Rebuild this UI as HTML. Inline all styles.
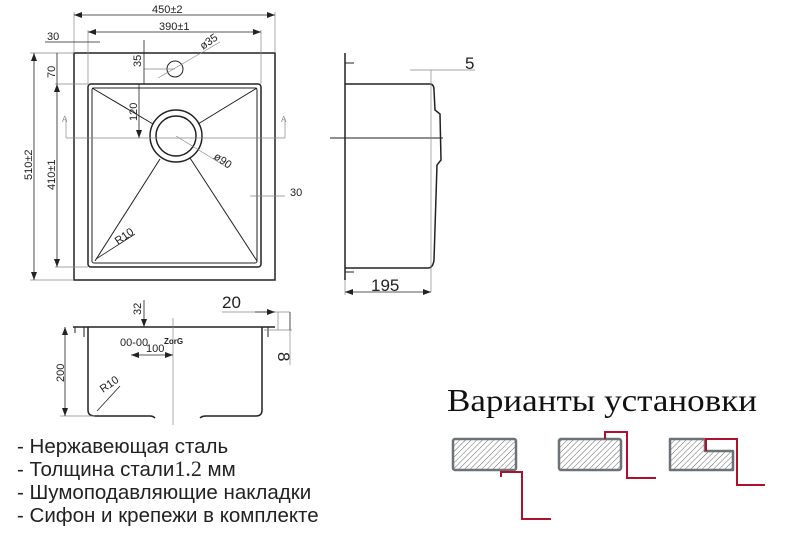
<!DOCTYPE html>
<html><head><meta charset="utf-8"><style>
html,body{margin:0;padding:0;background:#fff;}
svg{display:block;}
.t{font-family:"Liberation Sans",sans-serif;fill:#222;}
</style></head><body>
<svg width="800" height="533" viewBox="0 0 800 533" xmlns="http://www.w3.org/2000/svg">
<defs>
<pattern id="h" width="4" height="4" patternUnits="userSpaceOnUse" patternTransform="rotate(45)">
<line x1="0" y1="0" x2="0" y2="4" stroke="#666" stroke-width="1"/></pattern>
<marker id="a" markerWidth="8" markerHeight="6" refX="8" refY="3" orient="auto-start-reverse" markerUnits="userSpaceOnUse"><path d="M0,0 L8,3 L0,6 z" fill="#222"/></marker>
</defs>
<g stroke="#222" fill="none" stroke-width="1">
<rect x="74" y="53" width="201" height="227" stroke-width="1.5"/>
<rect x="88" y="84" width="173" height="183" rx="3" stroke-width="1.5"/>
<rect x="92" y="88" width="165" height="175" rx="2"/>
<circle cx="176" cy="136" r="26" stroke-width="1.5"/>
<circle cx="176" cy="136" r="20" stroke-width="1.5"/>
<circle cx="175" cy="69" r="8"/>
<line x1="92" y1="88" x2="153" y2="124"/><line x1="257" y1="88" x2="198" y2="124"/>
<line x1="95" y1="261" x2="160" y2="159"/><line x1="257" y1="261" x2="190" y2="158"/>
<g stroke="#888" stroke-width="0.7">
<line x1="74" y1="12" x2="74" y2="53"/><line x1="275" y1="12" x2="275" y2="53"/>
<line x1="88" y1="30" x2="88" y2="84"/><line x1="261" y1="30" x2="261" y2="84"/>
<line x1="30" y1="53" x2="74" y2="53"/><line x1="30" y1="280" x2="74" y2="280"/>
<line x1="55" y1="84" x2="88" y2="84"/><line x1="55" y1="267" x2="88" y2="267"/>
<line x1="66" y1="138" x2="285" y2="138"/>
<line x1="66" y1="118" x2="66" y2="138"/><line x1="285" y1="118" x2="285" y2="138"/>
<line x1="144" y1="69" x2="175" y2="69"/>
<line x1="158" y1="78" x2="220" y2="42"/>
<line x1="176" y1="136" x2="228" y2="168"/>
<line x1="250" y1="196" x2="285" y2="196"/>
</g>
<line x1="74" y1="15" x2="275" y2="15" marker-start="url(#a)" marker-end="url(#a)" stroke-width="0.8"/>
<line x1="88" y1="32" x2="261" y2="32" marker-start="url(#a)" marker-end="url(#a)" stroke-width="0.8"/>
<line x1="45" y1="42" x2="100" y2="42" stroke-width="0.8"/>
<line x1="34" y1="53" x2="34" y2="280" marker-start="url(#a)" marker-end="url(#a)" stroke-width="0.8"/>
<line x1="57" y1="84" x2="57" y2="267" marker-start="url(#a)" marker-end="url(#a)" stroke-width="0.8"/>
<line x1="57" y1="53" x2="57" y2="84" stroke-width="0.8"/>
<line x1="144" y1="40" x2="144" y2="84" stroke-width="0.8"/>
<line x1="139" y1="84" x2="139" y2="138" marker-end="url(#a)" stroke-width="0.8"/>
<line x1="96" y1="259" x2="135" y2="234" stroke-width="0.8"/>
<line x1="345" y1="53" x2="345" y2="280" stroke-width="1.5"/>
<line x1="345" y1="63" x2="354" y2="63"/><line x1="345" y1="272" x2="354" y2="272"/>
<path d="M345 84 H430 Q434 84 434 90 L435 110 L440 114 L441 160 L437 165 L434 260 Q433 268 428 268 H345" stroke-width="1.5"/>
<line x1="330" y1="138" x2="443" y2="138"/>
<g stroke="#888" stroke-width="0.7"><line x1="431" y1="70" x2="431" y2="292"/><line x1="410" y1="70" x2="475" y2="70"/><line x1="345" y1="280" x2="345" y2="295"/></g>
<line x1="345" y1="292" x2="431" y2="292" marker-start="url(#a)" marker-end="url(#a)" stroke-width="0.8"/>
<line x1="73" y1="327" x2="275" y2="327" stroke-width="1.5"/>
<line x1="75" y1="327" x2="75" y2="333"/><line x1="84" y1="327" x2="84" y2="337"/>
<line x1="268" y1="327" x2="268" y2="337"/>
<path d="M88 327 V410 Q88 416 95 416 H150 Q153 416 155 418" stroke-width="1.5"/>
<path d="M200 418 Q202 416 206 416 H256 Q262 416 262 410 V327" stroke-width="1.5"/>
<g stroke="#888" stroke-width="0.7"><line x1="173" y1="318" x2="173" y2="425"/><line x1="60" y1="416" x2="95" y2="416"/><line x1="222" y1="312" x2="290" y2="312"/><line x1="278" y1="312" x2="278" y2="330"/><line x1="264" y1="330" x2="292" y2="330"/><line x1="290" y1="330" x2="290" y2="365"/></g>
<line x1="65" y1="327" x2="65" y2="416" marker-start="url(#a)" marker-end="url(#a)" stroke-width="0.8"/>
<line x1="144" y1="300" x2="144" y2="327" marker-end="url(#a)" stroke-width="0.8"/>
<line x1="131" y1="355" x2="173" y2="355" marker-start="url(#a)" marker-end="url(#a)" stroke-width="0.8"/>
<line x1="97" y1="411" x2="120" y2="386" stroke-width="0.8"/>
<line x1="255" y1="312" x2="275" y2="312" marker-end="url(#a)" stroke-width="0.8"/>
<line x1="290" y1="312" x2="290" y2="330" stroke-width="0.8"/>
</g>
<g class="t" font-size="11">
<text x="152" y="13">450±2</text>
<text x="159" y="30">390±1</text>
<text x="47" y="40">30</text>
<text x="203" y="50" transform="rotate(-35 203 50)">ø35</text>
<text x="213" y="158" transform="rotate(35 213 158)">ø90</text>
<text x="290" y="196">30</text>
<text transform="translate(32 180) rotate(-90)">510±2</text>
<text transform="translate(55 190) rotate(-90)">410±1</text>
<text transform="translate(55 78) rotate(-90)">70</text>
<text transform="translate(141 67) rotate(-90)">35</text>
<text transform="translate(137 121) rotate(-90)">120</text>
<text x="118" y="245" transform="rotate(-35 118 245)">R10</text>
<text x="62" y="122" font-size="8" fill="#888">A</text><text x="281" y="122" font-size="8" fill="#888">A</text>
<text transform="translate(141 315) rotate(-90)">32</text>
<text x="146" y="352">100</text>
<text x="120" y="346" font-size="11">00-00</text>
<text x="164" y="344" font-size="8" font-weight="bold">ZorG</text>
<text transform="translate(64 382) rotate(-90)">200</text>
<text x="103" y="393" transform="rotate(-35 103 393)">R10</text>
</g>
<g class="t" font-size="17">
<text x="222" y="308">20</text>
<text transform="translate(278 352) rotate(90)">8</text>
<text x="465" y="69">5</text>
<text x="371" y="291">195</text>
</g>
<text x="447" y="411" font-family="'Liberation Serif',serif" font-size="32" fill="#111" textLength="310" lengthAdjust="spacingAndGlyphs">Варианты установки</text>
<g class="t" font-size="20.5" fill="#111">
<text x="17" y="453">- Нержавеющая сталь</text>
<text x="17" y="476">- Толщина стали<tspan font-family="'Liberation Serif',serif" font-size="22">1.2</tspan> мм</text>
<text x="17" y="499">- Шумоподавляющие накладки</text>
<text x="17" y="522">- Сифон и крепежи в комплекте</text>
</g>
<g stroke="#6b7278" stroke-width="2.5" fill="url(#h)">
<rect x="453" y="439" width="63" height="31" rx="2"/>
<rect x="559" y="439" width="62" height="31" rx="2"/>
<path d="M670 439 H705 V451 H733 V470 H670 Z" stroke-linejoin="round"/>
</g>
<g stroke="#b0102c" stroke-width="2" fill="none">
<path d="M501 477 V472 H522 V519 H551"/>
<path d="M605 439 V432 H627 V478 H656"/>
<path d="M706 451 V439 H737 V485 H765"/>
</g>
</svg>
</body></html>
